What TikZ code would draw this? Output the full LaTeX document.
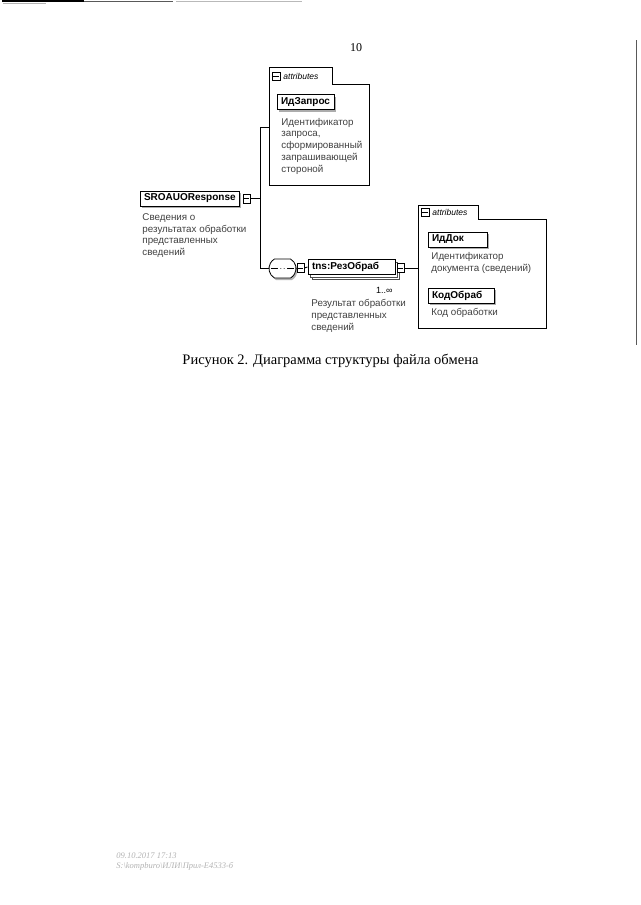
\documentclass[tikz,border=0pt]{standalone}
\usepackage{fontspec}
\setmainfont{Liberation Serif}
\setsansfont{Liberation Sans}
\usetikzlibrary{shadows,shapes.misc}

\begin{document}
\begin{tikzpicture}[
  x=1pt,y=-1pt,
  elem/.style={draw,line width=1pt,fill=white,inner xsep=4pt,inner ysep=0pt,minimum height=15pt,
    align=left,font=\sffamily\bfseries\fontsize{10}{12}\selectfont,
    drop shadow={shadow xshift=2pt,shadow yshift=-2pt,fill=gray!65,opacity=1}},
  multi/.style={double copy shadow={shadow xshift=2pt,shadow yshift=-2.5pt,draw=black!70,fill=white}},
  expander/.style={draw,line width=.7pt,fill=white,inner sep=0pt,minimum width=7pt,minimum height=9pt,
    path picture={\draw[line width=.7pt] ([xshift=1.3pt]path picture bounding box.west) -- ([xshift=-1.3pt]path picture bounding box.east);}},
  seqbox/.style={draw,line width=.8pt,fill=white,rounded rectangle,rounded rectangle arc length=120,
    minimum width=27pt,minimum height=19pt,inner sep=0pt,
    drop shadow={shadow xshift=1.5pt,shadow yshift=-2pt,fill=gray!60,opacity=1},
    path picture={\draw[line width=.8pt] ([xshift=4pt]path picture bounding box.west) -- ([xshift=-4pt]path picture bounding box.east);
      \foreach \d in {-3.2,0,3.2} \fill ([xshift=\d pt]path picture bounding box.center) circle (1.4pt);}},
  grp/.style={draw,line width=.9pt},
  tabname/.style={font=\sffamily\itshape\fontsize{8.5}{10}\selectfont,anchor=west,inner sep=0pt},
  note/.style={font=\sffamily\fontsize{9.8}{11.8}\selectfont,text=black!75,align=left,anchor=north west,inner sep=0pt},
  every path/.style={line width=.9pt}
]
  \useasboundingbox (0,0) rectangle (640,905);

  % scan edges
  \draw[line width=1.3pt] (2,1) -- (84,1);
  \draw[line width=1pt,gray!70!black] (84,1) -- (173,1);
  \draw[line width=.8pt,gray!55] (176,1) -- (302,1);
  \draw[line width=.8pt,gray!60] (3,3) -- (46,3);
  \draw[line width=.9pt,gray!70!black] (636,40) -- (636,345);

  \node[font=\fontsize{12}{14}\selectfont] (page) at (356,48) {10};

  % first attributes group
  \draw[grp] (269,67) -- (332,67) -- (332,84) -- (369,84) -- (369,185) -- (269,185) -- cycle;
  \node[expander,minimum width=8pt,minimum height=8pt] (tabA) at (276,76) {};
  \node[tabname] (tabAtext) at (283,76) {attributes};
  \node[elem,text width=49pt] (idzapros) at (305.5,102) {ИдЗапрос};
  \node[note] (idzaprosnote) at (281,117.5) {Идентификатор\\запроса,\\сформированный\\запрашивающей\\стороной};
  \coordinate (grpA) at (269,127);

  % root element
  \node[elem,text width=91pt] (root) at (189.5,198.5) {SROAUOResponse};
  \node[expander] (rootx) at (246.5,198.5) {};
  \node[note] (rootnote) at (142,213) {Сведения о\\результатах обработки\\представленных\\сведений};

  % sequence and child element
  \node[seqbox] (seq) at (282.5,268.5) {};
  \node[expander] (seqx) at (300.5,268) {};
  \node[elem,multi,text width=79pt] (rez) at (351.5,267) {tns:РезОбраб};
  \node[expander] (rezx) at (400.5,268) {};
  \node[font=\sffamily\fontsize{9}{10}\selectfont,anchor=east,inner sep=0pt] (occ) at (393,290) {1..∞};
  \node[note] (reznote) at (311,299) {Результат обработки\\представленных\\сведений};

  % second attributes group
  \draw[grp] (418,205) -- (478,205) -- (478,219) -- (546,219) -- (546,328) -- (418,328) -- cycle;
  \node[expander,minimum width=8pt,minimum height=8pt] (tabB) at (425,212.5) {};
  \node[tabname] (tabBtext) at (432,212.5) {attributes};
  \node[elem,text width=51pt] (iddok) at (457.5,239.5) {ИдДок};
  \node[note] (iddoknote) at (431,252) {Идентификатор\\документа (сведений)};
  \node[elem,text width=58pt] (kodobrab) at (461,295.5) {КодОбраб};
  \node[note] (kodobrabnote) at (431,308) {Код обработки};
  \coordinate (grpB) at (418,268);

  \draw (rootx.east) -- ++(10,0) coordinate (fork);
  \draw (fork) |- (grpA);
  \draw (fork) |- (seq.west);
  \draw (seq.east) -- (seqx.west);
  \draw (seqx.east) -- (rez.west);
  \draw (rezx.east) -- (grpB);

  \node[font=\fontsize{14.5}{17}\selectfont] (caption) at (330.5,361) {Рисунок 2. Диаграмма структуры файла обмена};

  \node[font=\itshape\fontsize{8.5}{10}\selectfont,text=gray!60,align=left,anchor=north west,inner sep=0pt] (stamp) at (116,852)
    {09.10.2017 17:13\\S:\textbackslash kompburo\textbackslash ИЛИ\textbackslash Прил-Е4533-б};
\end{tikzpicture}
\end{document}
